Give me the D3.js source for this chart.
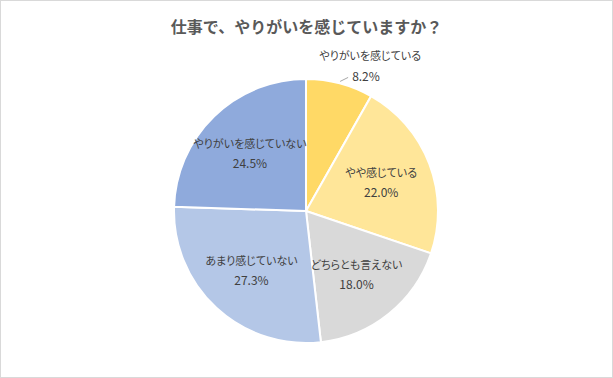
<!DOCTYPE html>
<html>
<head>
<meta charset="utf-8">
<script src="https://cdn.jsdelivr.net/npm/d3@7"></script>
<style>
  body { margin: 0; background: #fff; }
  text { font-family: "Noto Sans CJK JP", "Noto Sans", sans-serif; }
</style>
</head>
<body>
<div id="container"></div>
<script>
let w = 613;
let h = 378;

let title = "仕事で、やりがいを感じていますか？";
let categories = ["やりがいを感じている", "やや感じている", "どちらとも言えない", "あまり感じていない", "やりがいを感じていない"];
let values = [8.2, 22.0, 18.0, 27.3, 24.5];
let colors = ["#FFD966", "#FFE699", "#D9D9D9", "#B4C7E7", "#8FAADC"];

let cx = 306;
let cy = 211;
let r = 132;

let viz = d3.select("#container")
  .append("svg")
  .attr("width", w)
  .attr("height", h)
  .style("background-color", "white");

viz.append("rect")
  .attr("x", 0.5)
  .attr("y", 0.5)
  .attr("width", w - 1)
  .attr("height", h - 1)
  .attr("fill", "white")
  .attr("stroke", "#d9d9d9");

viz.append("text")
  .text(title)
  .attr("x", w / 2)
  .attr("y", 33)
  .attr("text-anchor", "middle")
  .attr("font-size", "16px")
  .attr("font-weight", "bold")
  .attr("fill", "#595959");

let data = categories.map((c, i) => ({ name: c, value: values[i], color: colors[i] }));

let pie = d3.pie().sort(null).value(d => d.value);
let arcs = pie(data);

let arc = d3.arc().innerRadius(0).outerRadius(r);
let labelArc = d3.arc().innerRadius(r * 0.61).outerRadius(r * 0.61);
let edgeArc = d3.arc().innerRadius(r + 2).outerRadius(r + 2);

let g = viz.append("g").attr("transform", `translate(${cx}, ${cy})`);

g.selectAll(".slice")
  .data(arcs)
  .enter()
  .append("path")
  .attr("class", "slice")
  .attr("d", arc)
  .attr("fill", d => d.data.color)
  .attr("stroke", "white")
  .attr("stroke-width", 2);

// labels inside the bigger slices
let inside = arcs.filter(d => d.data.value > 10);
let labels = g.selectAll(".label")
  .data(inside)
  .enter()
  .append("g")
  .attr("class", "label")
  .attr("transform", d => `translate(${labelArc.centroid(d)})`);

labels.append("text")
  .text(d => d.data.name)
  .attr("y", -5)
  .attr("text-anchor", "middle")
  .attr("font-size", "11px")
  .style("font-feature-settings", "'palt'")
  .attr("fill", "#404040");

labels.append("text")
  .text(d => d.data.value.toFixed(1) + "%")
  .attr("y", 15)
  .attr("text-anchor", "middle")
  .attr("font-size", "12px")
  .attr("fill", "#404040");

// small slice gets an outside label with a leader line
let outside = arcs.filter(d => d.data.value <= 10);
outside.forEach(d => {
  let p = edgeArc.centroid(d);
  let q = [p[0] + 8, p[1] - 4];
  g.append("polyline")
    .attr("points", [p, q].map(v => v.join(",")).join(" "))
    .attr("fill", "none")
    .attr("stroke", "#a6a6a6")
    .attr("stroke-width", 1);
  g.append("text")
    .text(d.data.value.toFixed(1) + "%")
    .attr("x", q[0] + 4)
    .attr("y", q[1] + 4)
    .attr("font-size", "12px")
    .attr("fill", "#404040");
  g.append("text")
    .text(d.data.name)
    .attr("x", q[0] + 22)
    .attr("y", q[1] - 17)
    .attr("text-anchor", "middle")
    .attr("font-size", "11px")
    .style("font-feature-settings", "'palt'")
    .attr("fill", "#404040");
});
</script>
</body>
</html>
